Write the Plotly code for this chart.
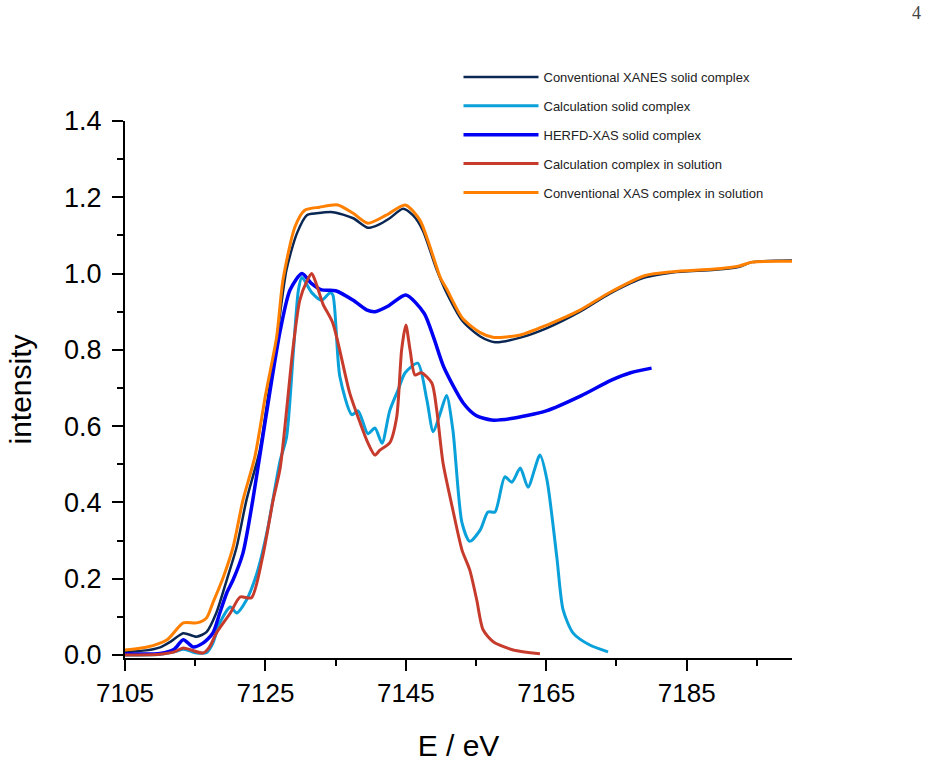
import plotly.graph_objects as go

# ---------------- data ----------------
E_xanes_solid = [7105, 7108, 7110, 7111.5, 7113.3, 7115.2, 7116.6, 7118, 7119.5, 7120.9,
                 7122.3, 7124.2, 7125.4, 7126.6, 7128, 7129.5, 7130.9, 7132.3, 7134.6, 7137.5,
                 7139.6, 7141, 7142.7, 7144.6, 7146, 7147.4, 7149.4, 7150.8, 7153.1, 7155.6,
                 7157.7, 7161.3, 7165.1, 7169.8, 7174.1, 7179.1, 7183, 7189, 7192.5, 7194.3, 7200]
I_xanes_solid = [0.008, 0.012, 0.02, 0.035, 0.057, 0.048, 0.06, 0.11, 0.197, 0.283,
                 0.406, 0.537, 0.68, 0.826, 1.01, 1.106, 1.153, 1.158, 1.161, 1.145,
                 1.12, 1.127, 1.145, 1.17, 1.153, 1.114, 1.01, 0.95, 0.875, 0.835,
                 0.82, 0.832, 0.857, 0.9, 0.948, 0.99, 1.003, 1.01, 1.018, 1.03, 1.034]

E_calc_solid = [7105, 7110, 7112, 7113.4, 7115, 7116.6, 7117.5, 7118.5, 7120, 7120.9,
                7122.3, 7123.8, 7125.2, 7127.1, 7128, 7129, 7129.7, 7130.2, 7131.6, 7133,
                7134.2, 7134.6, 7135.6, 7137.3, 7138.2, 7139.6, 7140.6, 7141.6, 7142.7, 7143.9,
                7144.9, 7146.7, 7148, 7148.9, 7149.9, 7150.8, 7151.7, 7153, 7154.1, 7155.6,
                7156.7, 7157.7, 7159.1, 7160.1, 7161.3, 7162.4, 7164.1, 7165.1, 7166.5, 7167.4,
                7168.8, 7171.2, 7173.8]
I_calc_solid = [0.0, 0.002, 0.008, 0.015, 0.006, 0.006, 0.03, 0.084, 0.126, 0.11,
                0.144, 0.215, 0.32, 0.51, 0.57, 0.8, 0.957, 0.99, 0.95, 0.93,
                0.95, 0.944, 0.73, 0.63, 0.64, 0.58, 0.595, 0.555, 0.64, 0.695,
                0.74, 0.765, 0.668, 0.585, 0.634, 0.68, 0.59, 0.346, 0.298, 0.328,
                0.375, 0.375, 0.467, 0.453, 0.49, 0.44, 0.524, 0.459, 0.257, 0.118,
                0.058, 0.026, 0.008]

E_herfd_solid = [7105, 7110, 7112, 7113.3, 7114.7, 7116.1, 7117.5, 7118.5, 7119.5, 7120.4,
                 7121.8, 7123.2, 7125, 7127.1, 7128.5, 7130.2, 7131.5, 7133, 7135, 7137.5,
                 7139.4, 7140.6, 7142.5, 7145, 7147.6, 7149, 7150.4, 7153.2, 7155, 7157.2,
                 7160, 7165, 7170, 7174.2, 7177, 7180]
I_herfd_solid = [0.003, 0.004, 0.015, 0.04, 0.021, 0.031, 0.057, 0.11, 0.163, 0.197,
                 0.267, 0.406, 0.616, 0.85, 0.957, 1.0, 0.975, 0.957, 0.955, 0.93,
                 0.905, 0.9, 0.915, 0.944, 0.896, 0.83, 0.755, 0.66, 0.628, 0.616,
                 0.62, 0.64, 0.68, 0.72, 0.74, 0.752]

E_calc_solution = [7105, 7110, 7112, 7113.3, 7116.1, 7117, 7118, 7120, 7121.4, 7123,
                   7124.6, 7126.1, 7127.1, 7128.9, 7129.9, 7130.9, 7131.6, 7132.3, 7133.2, 7134.6,
                   7137, 7138.5, 7139.6, 7140.6, 7141.3, 7142.7, 7143.7, 7144.4, 7145, 7145.6,
                   7146.3, 7147.2, 7148.7, 7149.4, 7150.3, 7151.7, 7153, 7154.1, 7155.1, 7156,
                   7157.5, 7160.3, 7164.1]
I_calc_solution = [0.0, 0.002, 0.008, 0.018, 0.005, 0.02, 0.057, 0.11, 0.152, 0.15,
                   0.257, 0.406, 0.49, 0.8, 0.93, 0.98, 1.0, 0.97, 0.92, 0.87,
                   0.687, 0.608, 0.556, 0.524, 0.537, 0.556, 0.624, 0.8, 0.865, 0.8,
                   0.734, 0.74, 0.713, 0.642, 0.503, 0.38, 0.275, 0.223, 0.144, 0.066,
                   0.034, 0.013, 0.003]

E_xas_solution = [7105, 7108, 7111, 7113.3, 7115.2, 7116.6, 7117.5, 7119, 7120.4, 7121.8,
                  7123.5, 7125, 7126.6, 7127.5, 7129.2, 7130.6, 7132.7, 7135.3, 7137.5, 7139.6,
                  7142.2, 7144.9, 7147, 7149.9, 7150.8, 7153.1, 7155.6, 7157.4, 7161.3, 7165.1,
                  7169.8, 7174.1, 7179.1, 7183, 7189, 7192.5, 7194.3, 7200]
I_xas_solution = [0.013, 0.02, 0.04, 0.084, 0.084, 0.097, 0.136, 0.204, 0.283, 0.406,
                  0.52, 0.68, 0.834, 0.983, 1.122, 1.166, 1.174, 1.18, 1.158, 1.132,
                  1.153, 1.18, 1.14, 0.99, 0.96, 0.882, 0.845, 0.833, 0.839, 0.865,
                  0.904, 0.951, 0.995, 1.005, 1.012, 1.02, 1.03, 1.032]

series_names = ["Conventional XANES solid complex",
                "Calculation solid complex",
                "HERFD-XAS solid complex",
                "Calculation complex in solution",
                "Conventional XAS complex in solution"]
series_E = [E_xanes_solid, E_calc_solid, E_herfd_solid, E_calc_solution, E_xas_solution]
series_I = [I_xanes_solid, I_calc_solid, I_herfd_solid, I_calc_solution, I_xas_solution]
series_colors = ["#0a2652", "#0aa0da", "#0000f2", "#c73b2c", "#ff8000"]
series_widths = [2.5, 3, 3.5, 3, 3]

x_tickvals = [7105, 7125, 7145, 7165, 7185]
y_tickvals = [0.0, 0.2, 0.4, 0.6, 0.8, 1.0, 1.2, 1.4]

# ---------------- figure ----------------
fig = go.Figure()
for i, (name, ex, iy, col, w) in enumerate(zip(series_names, series_E, series_I,
                                               series_colors, series_widths)):
    fig.add_trace(go.Scatter(
        x=ex, y=iy, mode="lines", name=name, legendgroup=f"g{i}",
        line=dict(color=col, width=w, shape="spline", smoothing=0.7),
    ))

font_main = "Liberation Sans, Arial, Helvetica, sans-serif"

fig.update_layout(
    width=928, height=763,
    margin=dict(l=125, r=136, t=121, b=105),
    paper_bgcolor="white", plot_bgcolor="white",
    font=dict(family=font_main, color="black"),
    showlegend=True,
    legend=dict(
        x=0.50, y=1.11, xanchor="left", yanchor="top",
        font=dict(size=13, color="#222"),
        bgcolor="rgba(0,0,0,0)", borderwidth=0,
        traceorder="grouped", tracegroupgap=9, itemwidth=75,
    ),
    annotations=[dict(
        text="4", xref="paper", yref="paper", x=1.186, y=1.201,
        xanchor="center", yanchor="middle",
        showarrow=False, font=dict(family="Liberation Serif, DejaVu Serif, serif",
                                   size=18, color="#444"),
    )],
)

fig.update_xaxes(
    range=[7105, 7200], tickmode="array", tickvals=x_tickvals, automargin=False,
    ticks="outside", ticklen=11, tickwidth=2, tickcolor="black",
    showline=True, linewidth=2, linecolor="black", mirror=False,
    showgrid=False, zeroline=False,
    tickfont=dict(size=26, family=font_main),
    minor=dict(dtick=10, tick0=7105, ticks="outside", ticklen=6, tickwidth=2,
               tickcolor="black", showgrid=False),
    title=dict(text="E / eV", font=dict(size=30, family=font_main), standoff=28),
)
fig.update_yaxes(
    range=[-0.008, 1.4], tickmode="array", tickvals=y_tickvals, tickformat=".1f",
    automargin=False,
    ticks="outside", ticklen=11, tickwidth=2, tickcolor="black",
    showline=True, linewidth=2, linecolor="black", mirror=False,
    showgrid=False, zeroline=False,
    tickfont=dict(size=27, family=font_main), ticklabelstandoff=5,
    minor=dict(dtick=0.1, tick0=0, ticks="outside", ticklen=6, tickwidth=2,
               tickcolor="black", showgrid=False),
    title=dict(text="intensity", font=dict(size=30, family=font_main), standoff=24),
)

fig.write_html("out.html")
